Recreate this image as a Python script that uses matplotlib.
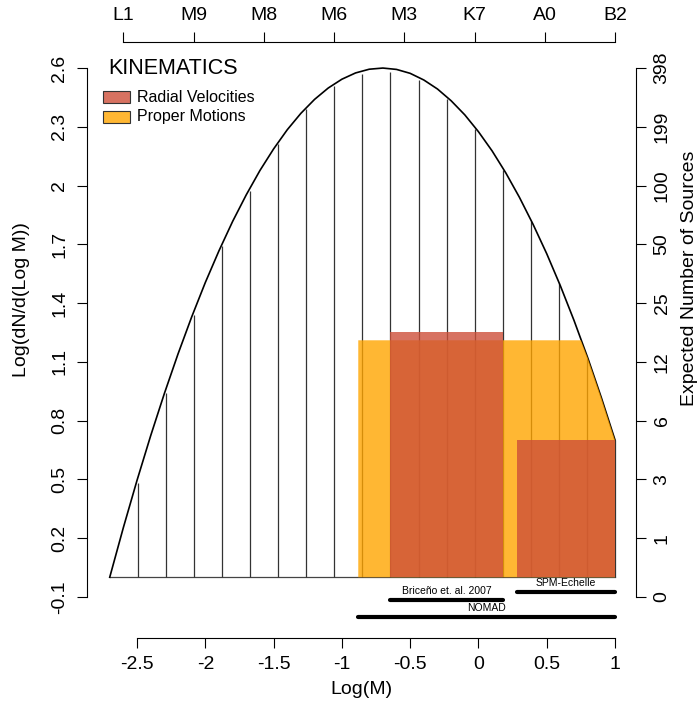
import numpy as np
import matplotlib.pyplot as plt
from matplotlib.patches import Rectangle, Polygon

plt.rcParams['font.family'] = ['Liberation Sans', 'DejaVu Sans']

# mass function, log(dN/dlogM) sampled every 0.1 in log M
log_m = np.round(np.arange(-2.7, 1.01, 0.1), 1)
log_dn = [0.000, 0.254, 0.495, 0.723, 0.938, 1.140, 1.329, 1.505, 1.667, 1.817,
          1.953, 2.077, 2.187, 2.285, 2.369, 2.440, 2.498, 2.543, 2.575, 2.594,
          2.600, 2.593, 2.573, 2.539, 2.493, 2.433, 2.361, 2.275, 2.177, 2.065,
          1.940, 1.802, 1.652, 1.488, 1.311, 1.121, 0.917, 0.701]

# bin heights (vertical hatching under the curve)
bin_h = [0.00, 0.48, 0.94, 1.34, 1.69, 1.97, 2.21, 2.39, 2.51, 2.57,
         2.58, 2.54, 2.44, 2.29, 2.08, 1.82, 1.50, 1.12, 0.70]
bin_x = np.linspace(-2.7, 1.0, len(bin_h))

# proper motions coverage: flat cap, then follows the curve
pm_lo, pm_corner, pm_cap = -0.88, 0.75, 1.21

# radial velocity coverage: (lo, hi, top)
rv_lo = [-0.65, 0.28]
rv_hi = [0.18, 1.00]
rv_top = [1.25, 0.70]

# survey ranges drawn below the axis
surveys = ['Briceño et. al. 2007', 'SPM-Echelle', 'NOMAD']
survey_lo = [-0.65, 0.28, -0.88]
survey_hi = [0.18, 1.00, 1.00]
survey_y = [-0.115, -0.076, -0.204]

y_ticks = np.round(np.arange(-0.1, 2.61, 0.3), 1)
y_labels = ['-0.1', '0.2', '0.5', '0.8', '1.1', '1.4', '1.7', '2', '2.3', '2.6']
n_sources = ['0', '1', '3', '6', '12', '25', '50', '100', '199', '398']
x_ticks = [-2.5, -2, -1.5, -1, -0.5, 0, 0.5, 1]
x_labels = ['-2.5', '-2', '-1.5', '-1', '-0.5', '0', '0.5', '1']
spt_labels = ['L1', 'M9', 'M8', 'M6', 'M3', 'K7', 'A0', 'B2']
spt_pos = np.linspace(-2.6, 1.0, len(spt_labels))

W, H = 700, 715
fig = plt.figure(figsize=(W / 100, H / 100), dpi=100)
ax = fig.add_axes([86.5 / W, 1 - 638 / H, 549 / W, 596 / H])
xlim = (-2.87, 1.15)
ylim = (-0.31, 2.733)
ax.set_xlim(xlim)
ax.set_ylim(ylim)

# curve, baseline and hatching
ax.plot(log_m, log_dn, color='black', lw=1.2, zorder=2)
ax.plot([log_m[0], log_m[-1]], [0, 0], color='#444444', lw=0.9, zorder=1)
ax.vlines(bin_x, 0, bin_h, color='#333333', lw=0.9, zorder=1)

# proper motions polygon
tail = [(x, y) for x, y in zip(log_m, log_dn) if x > pm_corner]
pm_verts = [(pm_lo, 0), (pm_lo, pm_cap), (pm_corner, pm_cap)] + tail + [(log_m[-1], 0)]
ax.add_patch(Polygon(pm_verts, closed=True, facecolor='orange', alpha=0.8,
                     edgecolor='none', zorder=3))

# radial velocity boxes
for lo, hi, top in zip(rv_lo, rv_hi, rv_top):
    ax.add_patch(Rectangle((lo, 0), hi - lo, top, facecolor='#CD4F39',
                           alpha=0.8, edgecolor='none', zorder=4))

# survey bars
for name, lo, hi, y in zip(surveys, survey_lo, survey_hi, survey_y):
    ax.plot([lo, hi], [y, y], color='black', lw=3, solid_capstyle='round',
            clip_on=False, zorder=5)
    ax.text((lo + hi) / 2, y + 0.02, name, ha='center', va='bottom',
            fontsize=7.5, zorder=5)

# axes styling
fs = 14
for s in ['top', 'right']:
    ax.spines[s].set_visible(False)
ax.spines['left'].set_bounds(-0.1, 2.6)
ax.spines['bottom'].set_bounds(-2.5, 1.0)
ax.set_xticks(x_ticks)
ax.set_xticklabels(x_labels)
ax.set_yticks(y_ticks)
ax.set_yticklabels(y_labels, rotation=90, va='center')
ax.tick_params(direction='out', length=7, width=0.8, labelsize=fs, pad=6)

ax_r = ax.twinx()
ax_r.set_ylim(ylim)
for s in ['top', 'left', 'bottom']:
    ax_r.spines[s].set_visible(False)
ax_r.spines['right'].set_bounds(-0.1, 2.6)
ax_r.set_yticks(y_ticks)
ax_r.set_yticklabels(n_sources, rotation=90, va='center')
ax_r.tick_params(direction='out', length=7, width=0.8, labelsize=fs, pad=6)

ax_t = ax.twiny()
ax_t.set_xlim(xlim)
for s in ['bottom', 'left', 'right']:
    ax_t.spines[s].set_visible(False)
ax_t.spines['top'].set_bounds(spt_pos[0], spt_pos[-1])
ax_t.set_xticks(spt_pos)
ax_t.set_xticklabels(spt_labels)
ax_t.tick_params(direction='out', length=7, width=0.8, labelsize=fs, pad=6)

for a in (ax, ax_r, ax_t):
    for s in a.spines.values():
        s.set_linewidth(0.8)

# axis titles
fig.text(361 / W, 1 - 690 / H, 'Log(M)', ha='center', va='center', fontsize=fs)
fig.text(22 / W, 1 - 300 / H, 'Log(dN/d(Log M))', ha='center', va='center',
         rotation=90, fontsize=fs)
fig.text(690 / W, 1 - 278 / H, 'Expected Number of Sources', ha='center',
         va='center', rotation=90, fontsize=fs)

# legend
fig.text(108 / W, 1 - 68 / H, 'KINEMATICS', ha='left', va='center', fontsize=15.5)
legend_items = ['Radial Velocities', 'Proper Motions']
legend_colors = ['#CD4F39', 'orange']
for i, (lab, col) in enumerate(zip(legend_items, legend_colors)):
    yc = 97 + 20 * i
    fig.add_artist(Rectangle((103 / W, 1 - (yc + 6) / H), 27 / W, 12 / H,
                             transform=fig.transFigure, facecolor=col,
                             alpha=0.8, edgecolor='none'))
    fig.add_artist(Rectangle((103 / W, 1 - (yc + 6) / H), 27 / W, 12 / H,
                             transform=fig.transFigure, facecolor='none',
                             edgecolor='#333333', lw=0.8))
    fig.text(137 / W, 1 - yc / H, lab, ha='left', va='center', fontsize=11.5)

fig.savefig('out.png', dpi=100)
